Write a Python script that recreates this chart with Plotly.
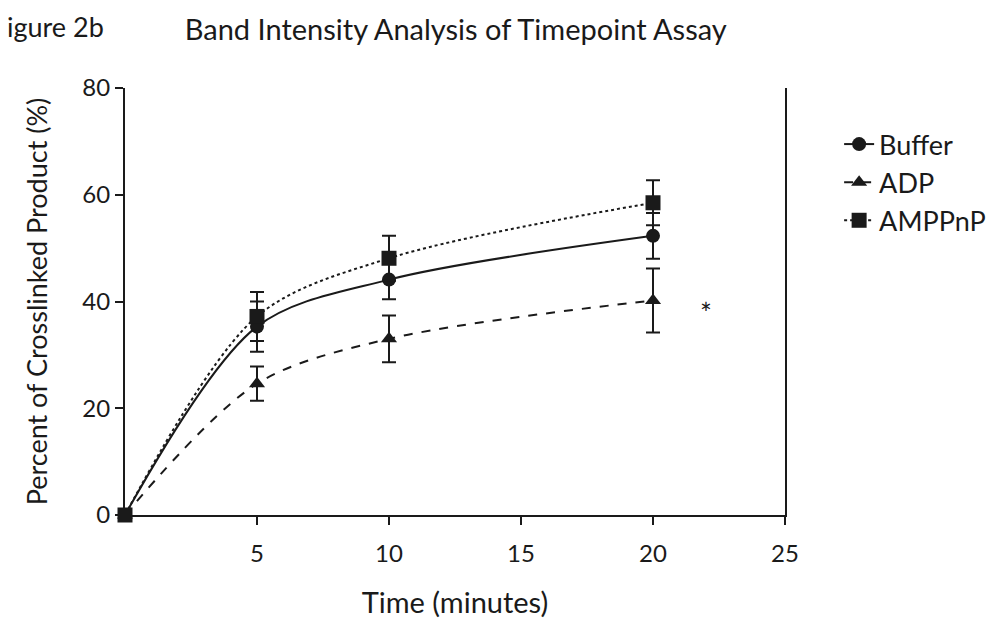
import plotly.graph_objects as go

time_min = [0, 5, 10, 20]
buffer_vals = [0, 35.3, 44.1, 52.3]
buffer_err = [0, 4.7, 3.7, 4.3]
adp_vals = [0, 24.6, 33.0, 40.2]
adp_err = [0, 3.2, 4.4, 6.0]
amppnp_vals = [0, 37.2, 48.1, 58.5]
amppnp_err = [0, 4.6, 4.2, 4.2]
series_names = ["Buffer", "ADP", "AMPPnP"]
x_ticks = [5, 10, 15, 20, 25]
y_ticks = [0, 20, 40, 60, 80]
star_pos = [22, 37.8]

ink = "#1a1a1a"
font_family = "Lato, 'Open Sans', sans-serif"

fig = go.Figure()
styles = [
    (buffer_vals, buffer_err, "solid", "circle", 14),
    (adp_vals, adp_err, "dash", "triangle-up", 14),
    (amppnp_vals, amppnp_err, "dot", "square", 15),
]
for name, (vals, err, dash, sym, size) in zip(series_names, styles):
    fig.add_trace(go.Scatter(
        x=time_min, y=vals, name=name, mode="lines+markers",
        line=dict(color=ink, width=2, dash=dash, shape="spline", smoothing=0.9),
        marker=dict(symbol=sym, size=size, color=ink),
        error_y=dict(type="data", array=err, visible=True, color=ink,
                     thickness=2, width=7),
        cliponaxis=False,
    ))

fig.add_annotation(x=star_pos[0], y=star_pos[1], text="*", showarrow=False,
                   font=dict(size=28, color=ink, family=font_family))
fig.add_annotation(x=0, y=1, xref="paper", yref="paper", xanchor="left", yanchor="top",
                   text="igure 2b", showarrow=False, xshift=-120, yshift=80,
                   font=dict(size=27, color=ink, family=font_family))

fig.update_layout(
    width=995, height=618,
    paper_bgcolor="white", plot_bgcolor="white",
    margin=dict(l=117, r=218, t=80, b=104),
    font=dict(family=font_family, color=ink, size=18),
    title=dict(text="Band Intensity Analysis of Timepoint Assay", x=0.45, xanchor="center",
               y=0.965, yanchor="middle", font=dict(size=29, color=ink, family=font_family)),
    legend=dict(x=1.082, y=0.925, xanchor="left", yanchor="top",
                font=dict(size=27, color=ink, family=font_family),
                bgcolor="rgba(0,0,0,0)", tracegroupgap=3),
    showlegend=True,
)
fig.update_xaxes(range=[0, 25], tickvals=x_ticks, ticks="outside", ticklen=8,
                 tickwidth=2, tickcolor=ink, showline=True, linecolor=ink, linewidth=2,
                 showgrid=False, zeroline=False, ticklabelstandoff=8,
                 tickfont=dict(size=24),
                 title=dict(text="Time (minutes)", font=dict(size=29), standoff=27))
fig.update_yaxes(range=[0, 80], tickvals=y_ticks, ticks="outside", ticklen=8,
                 tickwidth=2, tickcolor=ink, showline=True, linecolor=ink, linewidth=2,
                 mirror=True, showgrid=False, zeroline=False,
                 tickfont=dict(size=24),
                 title=dict(text="Percent of Crosslinked Product (%)", font=dict(size=27), standoff=27))

fig.write_html("out.html")
